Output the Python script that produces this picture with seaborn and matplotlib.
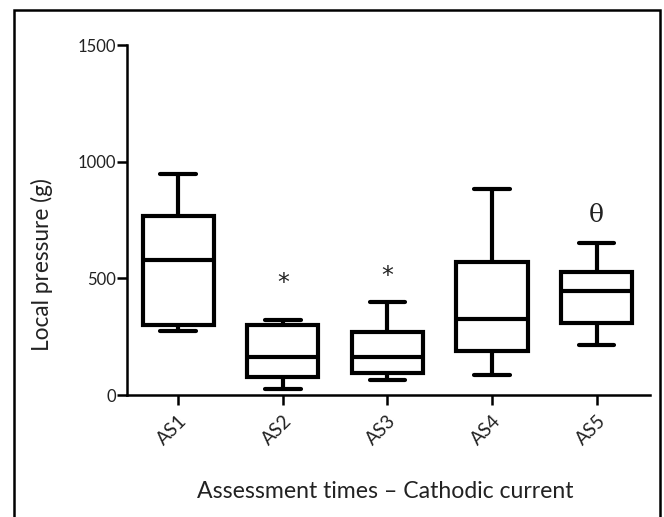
import numpy as np
import pandas as pd
import matplotlib
matplotlib.use("Agg")
import matplotlib.pyplot as plt
from matplotlib.patches import Rectangle
import seaborn as sns

# Data: per group [min, Q1, median, Q3, max] (g)
categories = ["AS1", "AS2", "AS3", "AS4", "AS5"]
as1 = [273, 302, 577, 766, 949]
as2 = [26, 79, 165, 302, 323]
as3 = [64, 93, 165, 269, 398]
as4 = [86, 190, 326, 570, 882]
as5 = [215, 309, 445, 527, 651]
annotations = ["*", "*", "θ"]
annot_cats = ["AS2", "AS3", "AS5"]
annot_y = [452, 482, 770]
yticks = [0, 500, 1000, 1500]

values = [as1, as2, as3, as4, as5]
df = pd.DataFrame({
    "time": np.repeat(categories, [len(v) for v in values]),
    "pressure": np.concatenate(values),
})

sns.set_theme(style="white")
plt.rcParams["font.family"] = ["Lato", "DejaVu Sans"]

fig = plt.figure(figsize=(6.64, 5.17), dpi=100)
ax = fig.add_axes([127 / 664, 1 - 395 / 517, 523 / 664, 350 / 517])

sns.boxplot(data=df, x="time", y="pressure", order=categories, ax=ax,
            whis=(0, 100), width=0.68, color="white", linecolor="black",
            linewidth=3.0, fliersize=0)

for lab, cat, yv in zip(annotations, annot_cats, annot_y):
    xi = categories.index(cat)
    if lab == "θ":
        ax.text(xi, yv, lab, ha="center", va="center", fontsize=18,
                family=["DejaVu Serif"], color="#222222")
    else:
        ax.text(xi, yv, lab, ha="center", va="baseline", fontsize=17,
                family=["DejaVu Sans"], color="#222222")

ax.set_ylim(0, 1500)
ax.set_xlim(-0.49, 4.51)
ax.set_yticks(yticks)
ax.set_yticklabels([str(t) for t in yticks], fontsize=12)
ax.set_xticks(range(len(categories)))
ax.set_xticklabels(categories, fontsize=13.5, rotation=45, ha="right",
                   rotation_mode="anchor")

for s in ["top", "right"]:
    ax.spines[s].set_visible(False)
for s in ["left", "bottom"]:
    ax.spines[s].set_linewidth(1.8)
    ax.spines[s].set_color("black")
ax.tick_params(axis="both", direction="out", length=7, width=1.8,
               color="black", labelcolor="#222222", bottom=True, left=True)
ax.tick_params(axis="x", pad=5)
ax.tick_params(axis="y", pad=1)

ax.set_ylabel("Local pressure (g)", fontsize=16.3, color="#222222")
ax.yaxis.set_label_coords(-0.1415, 0.374)
ax.set_xlabel("Assessment times – Cathodic current", fontsize=16.6,
              color="#222222")
ax.xaxis.set_label_coords(0.493, -0.246)

fig.patches.append(Rectangle((14 / 664, -0.02), (660 - 14) / 664,
                             1.02 - 10 / 517, transform=fig.transFigure,
                             fill=False, edgecolor="black", linewidth=1.8))

fig.savefig("out.png", dpi=100)
